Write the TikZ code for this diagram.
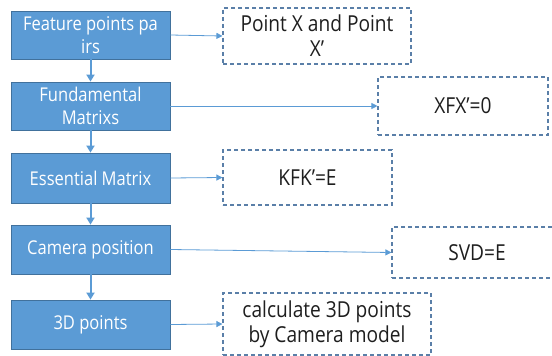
\documentclass[tikz,border=0pt]{standalone}
\usepackage{fontspec}
\setmainfont{Open Sans}[FakeStretch=0.87]
\usetikzlibrary{arrows.meta}
\definecolor{boxblue}{HTML}{5B9BD5}
\definecolor{boxedge}{HTML}{41719C}
\definecolor{dashedge}{HTML}{5A7FA8}
\definecolor{ink}{HTML}{1E1E1E}
\tikzset{
  stepbox/.style={rectangle, draw=boxedge, fill=boxblue, line width=0.8pt,
    minimum width=159pt, minimum height=48pt, text=white, align=center,
    font=\fontsize{19}{23}\selectfont, inner sep=0pt},
  notebox/.style={rectangle, draw=dashedge, dash pattern=on 4pt off 3pt,
    line width=1.1pt, text=ink, align=center,
    font=\fontsize{22}{25}\selectfont, inner sep=0pt},
  flow/.style={draw=boxblue, line width=2pt, -{Triangle[length=7pt,width=8pt]}},
  link/.style={draw=boxblue, line width=0.8pt, -{Triangle[length=6pt,width=6pt]}},
}
\begin{document}
\begin{tikzpicture}[x=1pt, y=-1pt]
  \useasboundingbox (0,0) rectangle (552,356);
  \clip (0,0) rectangle (552,356);

  % processing steps
  \node[stepbox] (feat) at (90.5,35) {Feature points pa\\irs};
  \node[stepbox] (fund) at (90.5,106) {Fundamental\\Matrixs};
  \node[stepbox, minimum height=50pt] (ess) at (90.5,178) {Essential Matrix};
  \node[stepbox, minimum height=49pt] (cam) at (90.5,249.5) {Camera position};
  \node[stepbox, minimum height=49pt] (pts) at (90.5,324.5) {3D points};

  % notes
  \node[notebox, minimum width=188pt, minimum height=56pt] (n1) at (317,36) {Point X and Point\\X’};
  \node[notebox, minimum width=170pt, minimum height=58pt] (n2) at (463,106) {XFX’=0};
  \node[notebox, minimum width=169pt, minimum height=55pt] (n3) at (307.5,177.5) {KFK’=E};
  \node[notebox, minimum width=170pt, minimum height=51pt] (n4) at (477,252.5) {SVD=E};
  \node[notebox, minimum width=208pt, minimum height=62pt] (n5) at (327,324) {calculate 3D points\\by Camera model};

  % flow between steps
  \draw[flow] (feat) -- (fund);
  \draw[flow] (fund) -- (ess);
  \draw[flow] (ess) -- (cam);
  \draw[flow] (cam) -- (pts);

  % links to notes
  \draw[link] (feat.east) -- (n1.west);
  \draw[link] (fund.east) -- (n2.west);
  \draw[link] (ess.east) -- (n3.west);
  \draw[link] (cam.east) -- (n4.west);
  \draw[link] (pts.east) -- (n5.west);
\end{tikzpicture}
\end{document}
